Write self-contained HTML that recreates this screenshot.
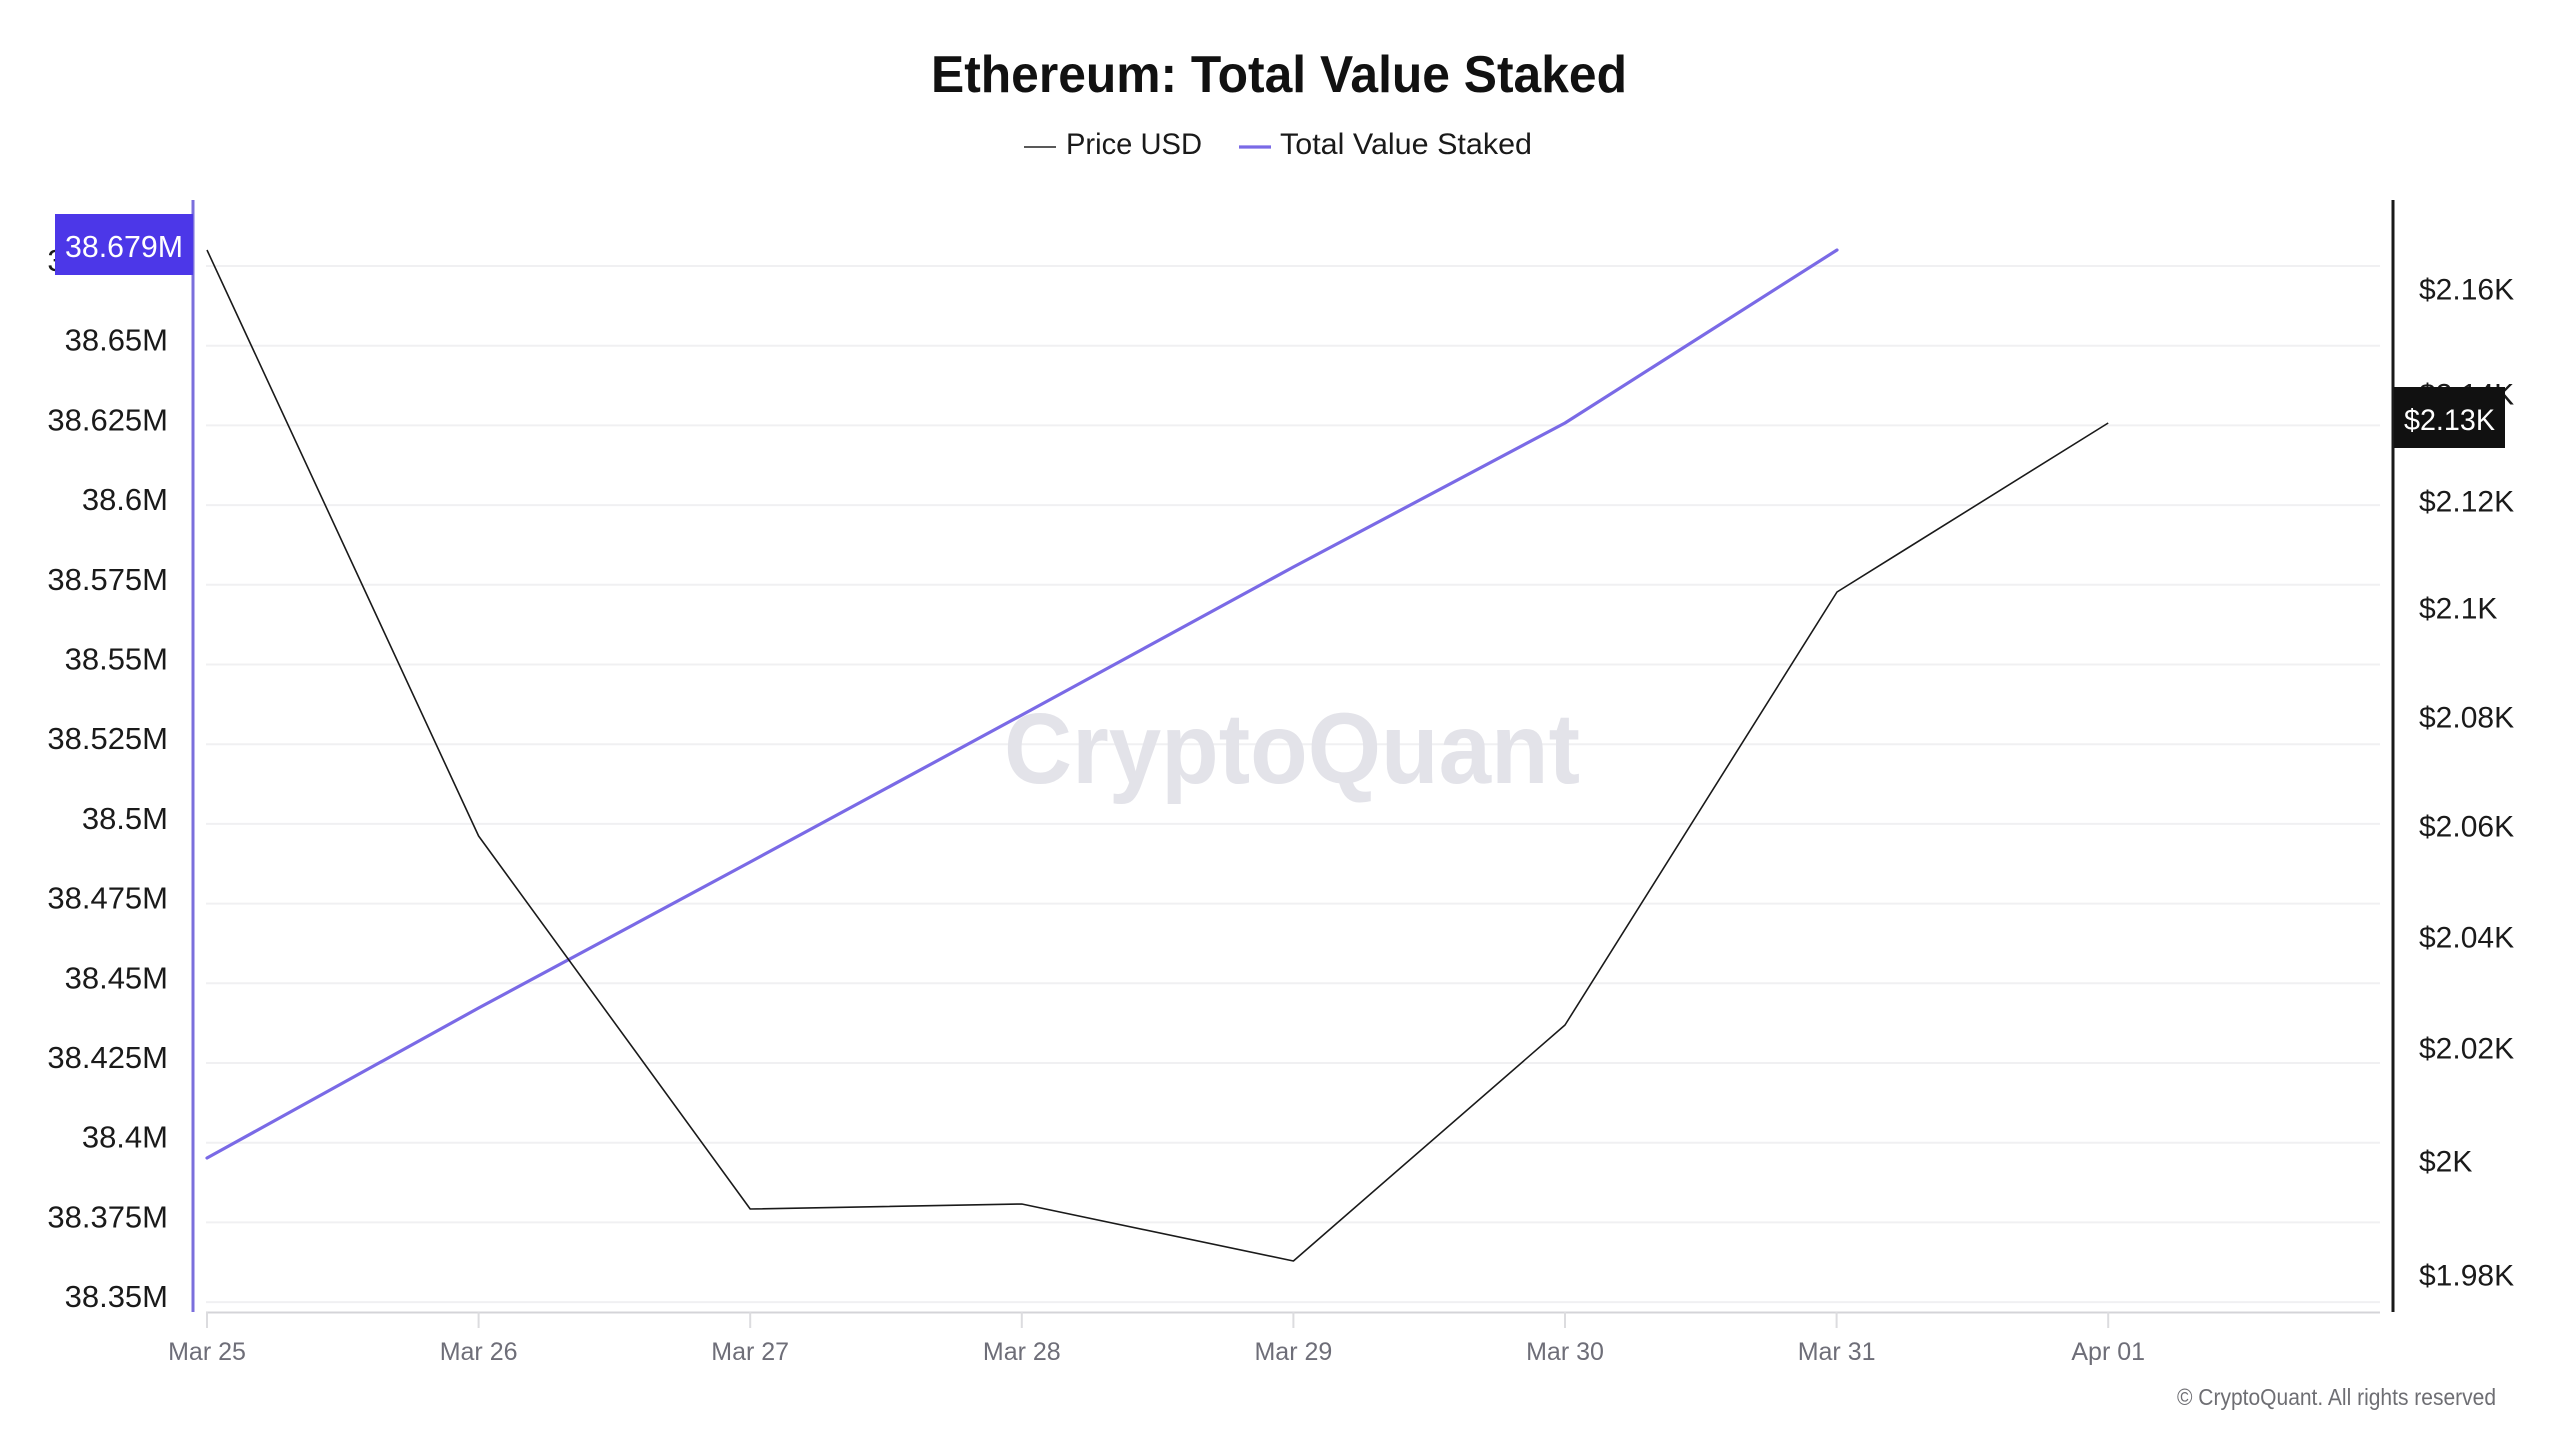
<!DOCTYPE html>
<html>
<head>
<meta charset="utf-8">
<style>
  html, body { margin:0; padding:0; background:#ffffff; }
  body { width:2560px; height:1440px; overflow:hidden; }
  svg { display:block; font-family:"Liberation Sans", "DejaVu Sans", sans-serif; }
</style>
</head>
<body>
<svg width="2560" height="1440" viewBox="0 0 2560 1440" xmlns="http://www.w3.org/2000/svg">
  <rect x="0" y="0" width="2560" height="1440" fill="#ffffff"/>

  <!-- Title -->
  <text x="1279" y="92" text-anchor="middle" font-size="52" font-weight="bold" fill="#111111" textLength="696" lengthAdjust="spacingAndGlyphs">Ethereum: Total Value Staked</text>

  <!-- Legend -->
  <line x1="1024" y1="147" x2="1056" y2="147" stroke="#222222" stroke-width="1.6"/>
  <text x="1066" y="154" font-size="30" fill="#1a1a1a" textLength="136" lengthAdjust="spacingAndGlyphs">Price USD</text>
  <line x1="1239" y1="147" x2="1271" y2="147" stroke="#7a6ae6" stroke-width="3.2"/>
  <text x="1280" y="154" font-size="30" fill="#1a1a1a" textLength="252" lengthAdjust="spacingAndGlyphs">Total Value Staked</text>

  <!-- Gridlines -->
  <g stroke="#f0f0f2" stroke-width="2">
    <line x1="206" y1="266" x2="2380" y2="266"/>
    <line x1="206" y1="345.7" x2="2380" y2="345.7"/>
    <line x1="206" y1="425.4" x2="2380" y2="425.4"/>
    <line x1="206" y1="505.1" x2="2380" y2="505.1"/>
    <line x1="206" y1="584.8" x2="2380" y2="584.8"/>
    <line x1="206" y1="664.5" x2="2380" y2="664.5"/>
    <line x1="206" y1="744.2" x2="2380" y2="744.2"/>
    <line x1="206" y1="823.9" x2="2380" y2="823.9"/>
    <line x1="206" y1="903.6" x2="2380" y2="903.6"/>
    <line x1="206" y1="983.3" x2="2380" y2="983.3"/>
    <line x1="206" y1="1063" x2="2380" y2="1063"/>
    <line x1="206" y1="1142.7" x2="2380" y2="1142.7"/>
    <line x1="206" y1="1222.4" x2="2380" y2="1222.4"/>
    <line x1="206" y1="1302.1" x2="2380" y2="1302.1"/>
  </g>

  <!-- Watermark -->
  <text x="1004" y="783" font-size="100" font-weight="bold" fill="#e3e3e9" textLength="576" lengthAdjust="spacingAndGlyphs">CryptoQuant</text>

  <!-- X axis -->
  <line x1="206" y1="1312.5" x2="2380" y2="1312.5" stroke="#d4d4d8" stroke-width="2"/>
  <g stroke="#dcdcdf" stroke-width="2">
    <line x1="207" y1="1312" x2="207" y2="1328"/>
    <line x1="478.6" y1="1312" x2="478.6" y2="1328"/>
    <line x1="750.2" y1="1312" x2="750.2" y2="1328"/>
    <line x1="1021.8" y1="1312" x2="1021.8" y2="1328"/>
    <line x1="1293.4" y1="1312" x2="1293.4" y2="1328"/>
    <line x1="1565" y1="1312" x2="1565" y2="1328"/>
    <line x1="1836.6" y1="1312" x2="1836.6" y2="1328"/>
    <line x1="2108.2" y1="1312" x2="2108.2" y2="1328"/>
  </g>
  <g font-size="25" fill="#6e6e78" text-anchor="middle">
    <text x="207" y="1360">Mar 25</text>
    <text x="478.6" y="1360">Mar 26</text>
    <text x="750.2" y="1360">Mar 27</text>
    <text x="1021.8" y="1360">Mar 28</text>
    <text x="1293.4" y="1360">Mar 29</text>
    <text x="1565" y="1360">Mar 30</text>
    <text x="1836.6" y="1360">Mar 31</text>
    <text x="2108.2" y="1360">Apr 01</text>
  </g>

  <!-- Left axis labels -->
  <g font-size="31" fill="#1a1a1a" text-anchor="end">
    <text x="168" y="271">38.675M</text>
    <text x="168" y="350.7">38.65M</text>
    <text x="168" y="430.4">38.625M</text>
    <text x="168" y="510.1">38.6M</text>
    <text x="168" y="589.8">38.575M</text>
    <text x="168" y="669.5">38.55M</text>
    <text x="168" y="749.2">38.525M</text>
    <text x="168" y="828.9">38.5M</text>
    <text x="168" y="908.6">38.475M</text>
    <text x="168" y="988.3">38.45M</text>
    <text x="168" y="1068">38.425M</text>
    <text x="168" y="1147.7">38.4M</text>
    <text x="168" y="1227.4">38.375M</text>
    <text x="168" y="1307.1">38.35M</text>
  </g>

  <!-- Right axis labels (log scale) -->
  <g font-size="30" fill="#1a1a1a">
    <text x="2419" y="299.5">$2.16K</text>
    <text x="2419" y="404.5">$2.14K</text>
    <text x="2419" y="511.5">$2.12K</text>
    <text x="2419" y="618.5">$2.1K</text>
    <text x="2419" y="727.5">$2.08K</text>
    <text x="2419" y="836.5">$2.06K</text>
    <text x="2419" y="947.5">$2.04K</text>
    <text x="2419" y="1058.5">$2.02K</text>
    <text x="2419" y="1171.5">$2K</text>
    <text x="2419" y="1285.5">$1.98K</text>
  </g>

  <!-- Series: Total Value Staked -->
  <polyline fill="none" stroke="#7a6ae6" stroke-width="3.2" stroke-linejoin="round" stroke-linecap="round"
    points="207,1158 478.6,1008 750.2,862 1021.8,715 1293.4,567 1565,423 1837,250"/>

  <!-- Series: Price USD -->
  <polyline fill="none" stroke="#1a1a1a" stroke-width="1.6" stroke-linejoin="round"
    points="207,250 478.6,836 750.2,1209 1021.8,1204 1293.4,1261 1565,1025 1837,592 2108.2,423"/>

  <!-- Axis lines -->
  <line x1="193" y1="200" x2="193" y2="1312" stroke="#7b6fdc" stroke-width="3"/>
  <line x1="2393" y1="200" x2="2393" y2="1312" stroke="#1a1a1a" stroke-width="3"/>

  <!-- Left current-value box -->
  <rect x="55" y="214" width="138" height="61" fill="#4c37e8"/>
  <text x="124" y="257" text-anchor="middle" font-size="31" fill="#ffffff" textLength="118" lengthAdjust="spacingAndGlyphs">38.679M</text>

  <!-- Right current-value box -->
  <rect x="2394" y="387" width="111" height="61" fill="#111111"/>
  <text x="2449.5" y="430" text-anchor="middle" font-size="30" fill="#ffffff" textLength="91" lengthAdjust="spacingAndGlyphs">$2.13K</text>

  <!-- Copyright -->
  <text x="2177" y="1405" font-size="23" fill="#6e6e73" textLength="319" lengthAdjust="spacingAndGlyphs">© CryptoQuant. All rights reserved</text>
</svg>
</body>
</html>
